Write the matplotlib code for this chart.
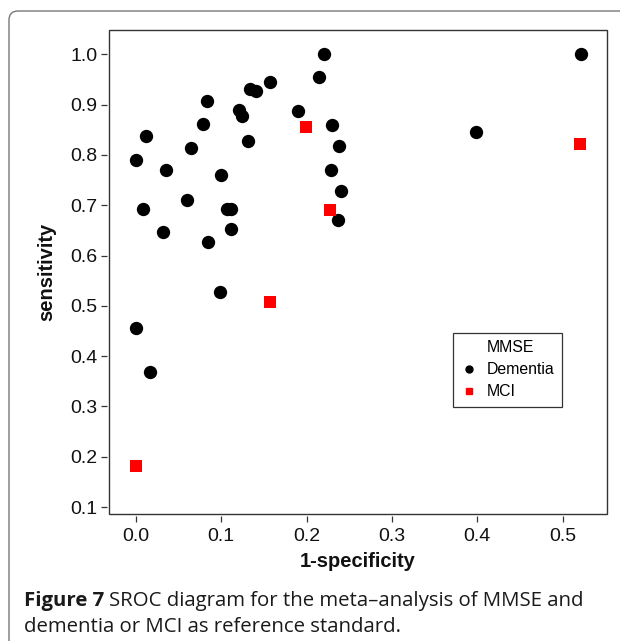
import matplotlib
matplotlib.use("Agg")
import matplotlib.pyplot as plt
from matplotlib.lines import Line2D
from matplotlib.patches import FancyBboxPatch, Rectangle

# SROC data: (1-specificity, sensitivity)
dem_fpr = [0.220, 0.215, 0.157, 0.134, 0.141, 0.083, 0.190, 0.121, 0.124, 0.079,
           0.230, 0.012, 0.131, 0.238, 0.065, 0.000, 0.035, 0.229, 0.100, 0.240,
           0.060, 0.009, 0.107, 0.111, 0.237, 0.032, 0.111, 0.085, 0.099, 0.000,
           0.017, 0.521, 0.398]
dem_sens = [1.000, 0.955, 0.945, 0.932, 0.928, 0.907, 0.888, 0.890, 0.877, 0.862,
            0.859, 0.838, 0.828, 0.817, 0.814, 0.789, 0.769, 0.769, 0.760, 0.728,
            0.710, 0.692, 0.692, 0.692, 0.670, 0.647, 0.652, 0.626, 0.527, 0.455,
            0.368, 1.000, 0.846]
mci_fpr = [0.199, 0.227, 0.157, 0.000, 0.520]
mci_sens = [0.856, 0.691, 0.508, 0.182, 0.822]

xticks = [0.0, 0.1, 0.2, 0.3, 0.4, 0.5]
yticks = [0.1, 0.2, 0.3, 0.4, 0.5, 0.6, 0.7, 0.8, 0.9, 1.0]

plt.rcParams['font.family'] = ['Liberation Sans', 'DejaVu Sans']

fig = plt.figure(figsize=(6.2, 6.41), dpi=100)

# rounded frame of the figure panel (open to the right and bottom)
frame = FancyBboxPatch((0.09, -1.0), 8.0, 6.41 - 0.11 + 1.0,
                       boxstyle="round,pad=0,rounding_size=0.09",
                       transform=fig.dpi_scale_trans, facecolor='none',
                       edgecolor='#777777', linewidth=1.0)
fig.patches.append(frame)

ax = fig.add_axes([109 / 620, (641 - 514) / 641, 498 / 620, 484 / 641])

ax.scatter(dem_fpr, dem_sens, s=92, marker='o', color='black', linewidths=0, zorder=3)
ax.scatter(mci_fpr, mci_sens, s=80, marker='s', color='#ff0000', linewidths=0, zorder=4)

ax.set_xlim(-0.0313, 0.5518)
ax.set_ylim(0.0861, 1.0483)
ax.set_xticks(xticks)
ax.set_xticklabels([f"{v:.1f}" for v in xticks])
ax.set_yticks(yticks)
ax.set_yticklabels([f"{v:.1f}" for v in yticks])

# R-style: ticks slightly detached from the box
for side in ['left', 'bottom']:
    ax.spines[side].set_position(('outward', 1.4))
for sp in ax.spines.values():
    sp.set_visible(False)
ax.add_patch(Rectangle((0, 0), 1, 1, transform=ax.transAxes, fill=False,
                       edgecolor='#333333', linewidth=1.0, clip_on=False, zorder=5))
ax.tick_params(direction='out', length=4, width=0.9, color='#333333',
               labelsize=14, labelcolor='#111111', pad=3)
ax.tick_params(axis='x', pad=5)

ax.text(0.5, -0.1095, "1-specificity", transform=ax.transAxes, ha='center',
        va='baseline', fontsize=14.5, fontweight='bold', color='#111111')
ax.text(-0.1245, 0.5, "sensitivity", transform=ax.transAxes, ha='center',
        va='center', rotation=90, fontsize=14.5, fontweight='bold', color='#111111')

handles = [Line2D([], [], linestyle='none', marker=None),
           Line2D([], [], linestyle='none', marker='o', color='black', markersize=5),
           Line2D([], [], linestyle='none', marker='s', color='#ff0000', markersize=5)]
labels = ["MMSE", "Dementia", "MCI"]
leg = ax.legend(handles, labels, loc='upper left',
                bbox_to_anchor=((453 - 109) / 498, (514 - 333) / 484),
                borderaxespad=0, fontsize=11.4, frameon=True, fancybox=False,
                edgecolor='#333333', framealpha=1, borderpad=0.45,
                handlelength=1.1, handletextpad=0.6, labelspacing=0.45)
leg.get_frame().set_linewidth(0.9)

# caption, sized so the first line spans the same width as the original
cap_font = ['Open Sans', 'DejaVu Sans']
cap_left, cap_right = 24, 585
line1_base, line2_base = 606, 632
renderer = fig.canvas.get_renderer()
size = 13.5
for _ in range(2):
    t1 = fig.text(cap_left / 620, 1 - line1_base / 641, "Figure 7", fontsize=size,
                  fontweight='bold', family=cap_font, color='#1a1a1a', va='baseline')
    bb = t1.get_window_extent(renderer)
    t2 = fig.text((bb.x1 + 0.3 * size) / 620, 1 - line1_base / 641,
                  "SROC diagram for the meta\u2013analysis of MMSE and", fontsize=size,
                  family=cap_font, color='#1a1a1a', va='baseline')
    end = t2.get_window_extent(renderer).x1
    if abs(end - cap_right) < 2:
        break
    t1.remove()
    t2.remove()
    size *= (cap_right - cap_left) / (end - cap_left)
fig.text(cap_left / 620, 1 - line2_base / 641, "dementia or MCI as reference standard.",
         fontsize=size, family=cap_font, color='#1a1a1a', va='baseline')

fig.savefig("out.png", dpi=100)
